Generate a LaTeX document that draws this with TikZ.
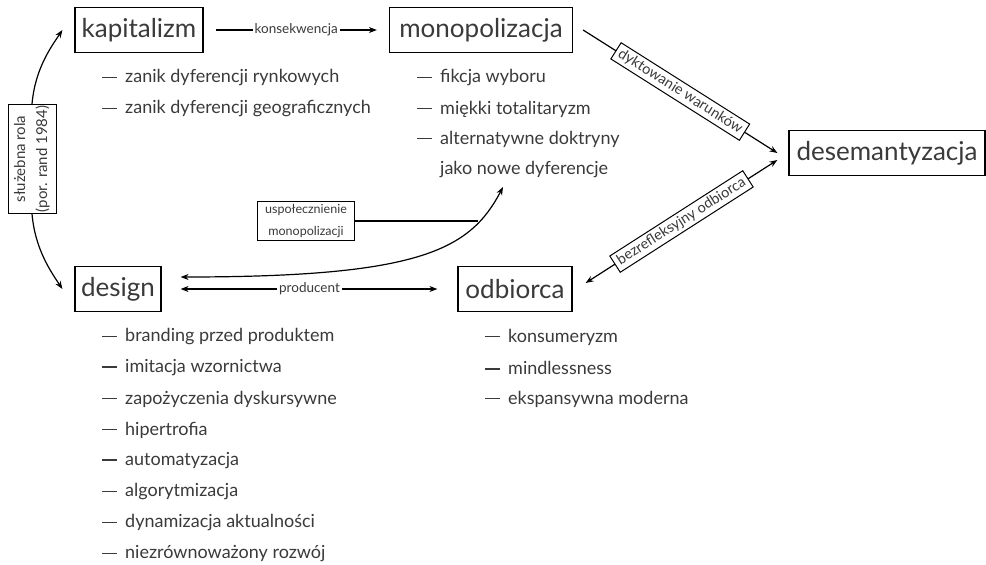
\documentclass[tikz,border=0pt]{standalone}
\usepackage{fontspec}
\setmainfont{Lato}
\usepackage{xcolor}
\usepackage{tikz}
\usetikzlibrary{arrows.meta}
\usetikzlibrary{calc}
\definecolor{szary}{HTML}{3A3A3A}
\newcommand{\kreska}{\makebox[23pt][l]{\raisebox{0.27em}{\rule{15pt}{1.6pt}}}}
\tikzset{
  pudelko/.style={draw, line width=1.2pt, text=szary, font=\fontsize{26}{30}\selectfont, minimum height=45pt, inner xsep=4pt},
  etykieta/.style={fill=white, text=szary, font=\fontsize{13.5}{15}\selectfont, inner sep=2pt},
  ramka/.style={draw, line width=1pt, fill=white, text=szary, font=\fontsize{14.5}{16}\selectfont, inner xsep=4pt, inner ysep=3pt},
  punkt/.style={anchor=west, text=szary, font=\fontsize{18}{20}\selectfont, inner sep=0pt},
  strzalka/.style={line width=1.2pt, -{Stealth[length=8pt,width=6pt]}},
  dwustronna/.style={line width=1.2pt, {Stealth[length=8pt,width=6pt]}-{Stealth[length=8pt,width=6pt]}}
}
\begin{document}
\begin{tikzpicture}[x=1pt,y=-1pt]
        \useasboundingbox (0,0) rectangle (986,565);
        %WEZLY
        \node[pudelko, minimum width=128pt] (kap) at (139,30) {kapitalizm};
        \node[pudelko, minimum width=183pt] (mono) at (481,30) {monopolizacja};
        \node[pudelko, minimum width=196pt] (desem) at (887,153) {desemantyzacja};
        \node[pudelko, minimum width=86pt] (des) at (118,289) {design};
        \node[pudelko, minimum width=114pt] (odb) at (515,289) {odbiorca};
        \node[ramka, rotate=90, align=center, font=\fontsize{15}{22}\selectfont, minimum width=108pt, minimum height=48pt, inner sep=1pt] (slu) at (32,159) {służebna rola\\(por. rand 1984)};
        \node[ramka, align=center, font=\fontsize{12.5}{22}\selectfont, minimum width=97pt] (usp) at (306,221) {uspołecznienie\\monopolizacji};
        %LISTY
        \node[punkt] (kap1) at (102,78) {\kreska zanik dyferencji rynkowych};
        \node[punkt] (kap2) at (102,109) {\kreska zanik dyferencji geograficznych};
        \node[punkt] (mono1) at (417,78) {\kreska fikcja wyboru};
        \node[punkt] (mono2) at (417,109) {\kreska miękki totalitaryzm};
        \node[punkt] (mono3) at (417,139) {\kreska alternatywne doktryny};
        \node[punkt] (mono4) at (440,170) {jako nowe dyferencje};
        \node[punkt] (des1) at (102,337) {\kreska branding przed produktem};
        \node[punkt] (des2) at (102,368) {\kreska imitacja wzornictwa};
        \node[punkt] (des3) at (102,399) {\kreska zapożyczenia dyskursywne};
        \node[punkt] (des4) at (102,430) {\kreska hipertrofia};
        \node[punkt] (des5) at (102,461) {\kreska automatyzacja};
        \node[punkt] (des6) at (102,492) {\kreska algorytmizacja};
        \node[punkt] (des7) at (102,523) {\kreska dynamizacja aktualności};
        \node[punkt] (des8) at (102,554) {\kreska niezrównoważony rozwój};
        \node[punkt] (odb1) at (485,337) {\kreska konsumeryzm};
        \node[punkt] (odb2) at (485,368) {\kreska mindlessness};
        \node[punkt] (odb3) at (485,399) {\kreska ekspansywna moderna};
        %KOORDINAT
        \coordinate (cel) at (503,187);
        %STRZALKI
        \draw[strzalka, shorten <=12pt, shorten >=12pt] (kap) -- node[etykieta] {konsekwencja} (mono);
        \draw[strzalka] ([xshift=10pt]mono.east) -- node[ramka, sloped] {dyktowanie warunków} ([xshift=-11pt]desem.west);
        \draw[dwustronna] ([xshift=-11pt,yshift=-7pt]desem.west) -- node[ramka, sloped] {bezrefleksyjny odbiorca} ([xshift=13pt,yshift=6pt]odb.east);
        \draw[dwustronna, shorten <=19pt, shorten >=20pt] (des) -- node[etykieta] {producent} (odb);
        \draw[strzalka] (slu.east) .. controls +(3,-35) and +(-12,18) .. ([xshift=-12pt]kap.west);
        \draw[strzalka] (slu.west) .. controls +(3,35) and +(-12,-18) .. ([xshift=-12pt]des.west);
        \draw[dwustronna] ([xshift=19pt,yshift=12pt]des.east) .. controls (420,277) and (470,250) .. coordinate[pos=0.79] (styk) (cel);
        \draw[line width=1.2pt] (usp.east) -- (usp.east -| styk);
\end{tikzpicture}
\end{document}
